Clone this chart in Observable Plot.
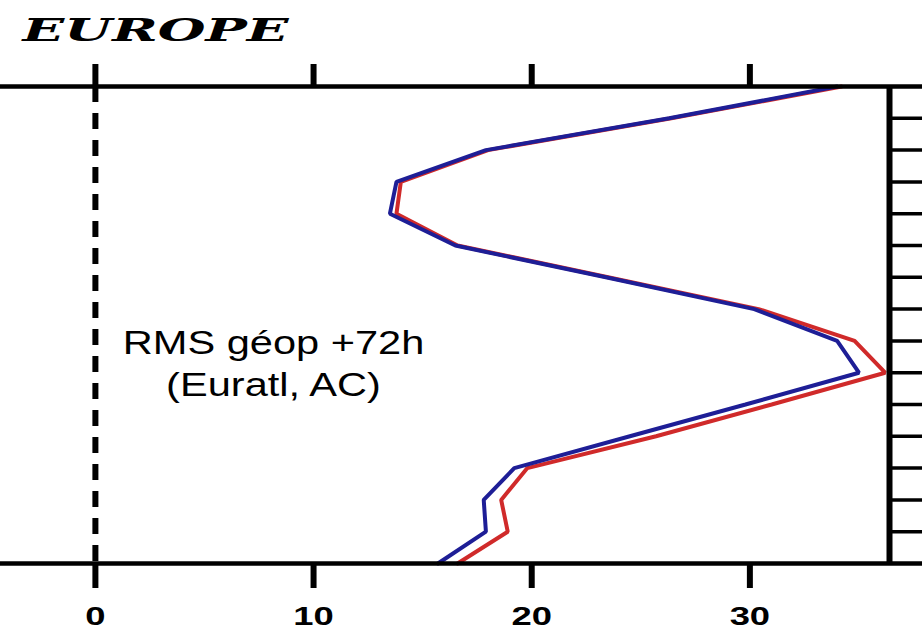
<!DOCTYPE html>
<html>
<head>
<meta charset="utf-8">
<script src="https://cdn.jsdelivr.net/npm/d3@7"></script>
<script src="https://cdn.jsdelivr.net/npm/@observablehq/plot@0.6"></script>
<style>
html, body { margin: 0; padding: 0; background: #fff; }
#chart { width: 922px; height: 631px; overflow: hidden; }
</style>
</head>
<body>
<div id="chart"></div>
<script>
// ---- Data ----
const title = "EUROPE";
const annotationLines = ["RMS géop +72h", "(Euratl, AC)"];

// vertical levels (bottom = 0, top = 15)
const levels = [0, 1, 2, 3, 4, 5, 6, 7, 8, 9, 10, 11, 12, 13, 14, 15];
const blueValues = [15.7, 17.9, 17.8, 19.2, 24.5, 29.8, 35.0, 34.0, 30.2, 23.4, 16.5, 13.5, 13.8, 17.9, 26.3, 34.0];
const redValues  = [16.6, 18.9, 18.6, 19.8, 25.7, 31.0, 36.2, 34.8, 30.4, 23.5, 16.6, 13.8, 14.0, 18.0, 26.4, 34.2];

const xTicks = [0, 10, 20, 30];
const xTickLabels = ["0", "10", "20", "30"];
const rightTicks = [1, 2, 3, 4, 5, 6, 7, 8, 9, 10, 11, 12, 13, 14];

const xDomain = [-4.35, 36.4];
const yDomain = [0, 15];

// ---- Tables built from the arrays ----
const blueRows = levels.map((l, i) => ({level: l, value: blueValues[i]}));
const redRows = levels.map((l, i) => ({level: l, value: redValues[i]}));
const annotation = annotationLines.join("\n");

const BLUE = "#1e1e96";
const RED = "#d02a2a";

const plot = Plot.plot({
  width: 922,
  height: 631,
  marginLeft: 0,
  marginRight: 33,
  marginTop: 86,
  marginBottom: 68,
  x: {domain: xDomain},
  y: {domain: yDomain},
  style: {background: "#fff", color: "#000", overflow: "visible"},
  marks: [
    Plot.line(redRows, {x: "value", y: "level", stroke: RED, strokeWidth: 4, strokeLinejoin: "miter"}),
    Plot.line(blueRows, {x: "value", y: "level", stroke: BLUE, strokeWidth: 4, strokeLinejoin: "miter"}),
    Plot.ruleX([0], {stroke: "#000", strokeWidth: 6, strokeDasharray: "16,11"}),
    Plot.ruleY([yDomain[0], yDomain[1]], {stroke: "#000", strokeWidth: 4.5, insetRight: -33}),
    Plot.ruleX([xDomain[1]], {stroke: "#000", strokeWidth: 6}),
    Plot.axisX(xTicks, {anchor: "top", tickSize: 23, strokeWidth: 6, tickFormat: () => "", label: null}),
    Plot.axisX(xTicks, {anchor: "bottom", tickSize: 25, strokeWidth: 6, tickFormat: () => "", label: null}),
    Plot.axisY(rightTicks, {anchor: "right", tickSize: 33, strokeWidth: 3.5, tickFormat: () => "", label: null}),
    Plot.text(xTicks, {
      x: d => d, text: (d, i) => xTickLabels[i],
      frameAnchor: "bottom", dy: 61, lineAnchor: "bottom", textAnchor: "middle",
      fontSize: 26, fontWeight: "bold", fontFamily: "Liberation Sans, Arial, sans-serif",
      fill: "#000"
    }),
    Plot.text([title], {
      text: d => d, frameAnchor: "top-left", dx: 22, dy: -46,
      textAnchor: "start", lineAnchor: "bottom",
      fontSize: 31, fontWeight: "bold", fontStyle: "italic", fontFamily: "DejaVu Serif, serif",
      fill: "#000"
    }),
    Plot.text([annotation], {
      text: d => d, frameAnchor: "left", dx: 273, dy: 36.5,
      textAnchor: "middle", lineAnchor: "middle", lineHeight: 1.273,
      fontSize: 33, fontFamily: "Liberation Sans, Arial, sans-serif",
      fill: "#000"
    })
  ]
});

// horizontal stretch of texts, as in the reference
function stretchText(t, sx) {
  let tr = t.getAttribute("transform");
  if (!tr) {
    const x = +(t.getAttribute("x") || 0), y = +(t.getAttribute("y") || 0);
    t.removeAttribute("x"); t.removeAttribute("y");
    tr = `translate(${x},${y})`;
  }
  t.setAttribute("transform", `${tr} scale(${sx},1)`);
}
const annotationContent = annotationLines.join("");
plot.querySelectorAll("text").forEach(t => {
  const s = t.textContent;
  if (s === title) stretchText(t, 1.77);
  else if (s === annotationContent || annotationLines.includes(s)) stretchText(t, 1.26);
  else if (xTickLabels.includes(s)) stretchText(t, 1.4);
});

document.getElementById("chart").appendChild(plot);
</script>
</body>
</html>
